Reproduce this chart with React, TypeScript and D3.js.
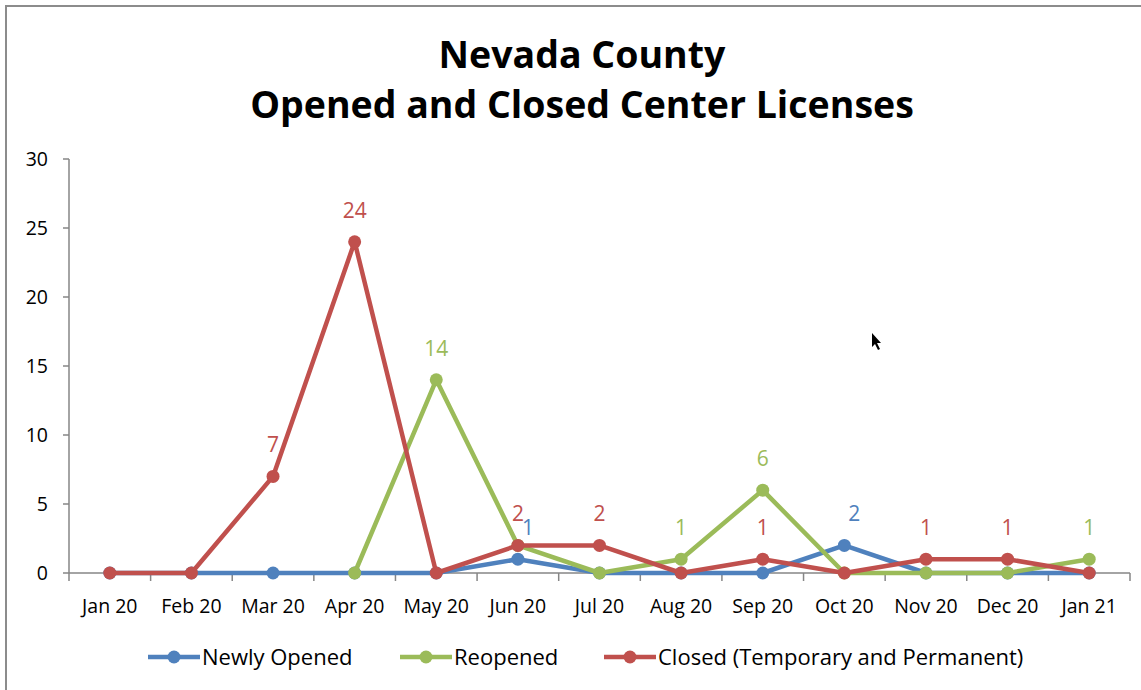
import React from "react";
import * as d3 from "d3";

const months = ["Jan 20","Feb 20","Mar 20","Apr 20","May 20","Jun 20","Jul 20","Aug 20","Sep 20","Oct 20","Nov 20","Dec 20","Jan 21"];
const newlyOpened: (number | null)[] = [0,0,0,0,0,1,0,0,0,2,0,0,0];
const reopened: (number | null)[] = [null,null,null,0,14,2,0,1,6,0,0,0,1];
const closed: (number | null)[] = [0,0,7,24,0,2,2,0,1,0,1,1,0];
// which points carry a data label (as in the original)
const newlyLabels = [false,false,false,false,false,true,false,false,false,true,false,false,false];
const reopenedLabels = [false,false,false,false,true,false,false,true,true,false,false,false,true];
const closedLabels = [false,false,true,true,false,true,true,false,true,false,true,true,false];
const yTicks = [0,5,10,15,20,25,30];

const titleLines = ["Nevada County", "Opened and Closed Center Licenses"];

const series = [
  { name: "Newly Opened", values: newlyOpened, labels: newlyLabels, color: "#4F81BD", dx: 10, dy: 0 },
  { name: "Reopened", values: reopened, labels: reopenedLabels, color: "#9BBB59", dx: 0, dy: 0 },
  { name: "Closed (Temporary and Permanent)", values: closed, labels: closedLabels, color: "#C0504D", dx: 0, dy: 0 },
];

const W = 1141, H = 690;
const left = 69, right = 1130, top = 159, bottom = 573;
const FONT = "'Open Sans', 'Noto Sans', sans-serif";

export default function App() {
  const x = d3.scaleBand<string>().domain(months).range([left, right]);
  const y = d3.scaleLinear().domain([0, 30]).range([bottom, top]);
  const cx = (m: string) => (x(m) as number) + x.bandwidth() / 2;
  const line = d3.line<number | null>()
    .defined((d) => d !== null)
    .x((_, i) => cx(months[i]))
    .y((d) => y(d as number));

  const boundaries = months.map((m) => x(m) as number).concat([right]);
  const legendItems = [
    { x0: 148, tx: 202 },
    { x0: 400, tx: 454 },
    { x0: 604, tx: 658 },
  ];

  return (
    <svg width={W} height={H} style={{ position: "absolute", left: 0, top: 0, background: "#fff" }} fontFamily={FONT}>
      <rect x={6} y={6} width={W + 20} height={H + 20} fill="#fff" stroke="#8c8c8c" strokeWidth={2} />
      {titleLines.map((t, i) => (
        <text key={i} x={582} y={68 + i * 50} textAnchor="middle" fontSize={37.5} fontWeight={700} fill="#000">{t}</text>
      ))}
      {/* y axis */}
      <line x1={left} x2={left} y1={top} y2={bottom} stroke="#868686" strokeWidth={1.5} />
      {yTicks.map((t) => (
        <g key={t}>
          <line x1={left - 6} x2={left} y1={y(t)} y2={y(t)} stroke="#868686" strokeWidth={1.5} />
          <text x={48} y={y(t)} dy="0.35em" textAnchor="end" fontSize={19.5} fill="#000">{t}</text>
        </g>
      ))}
      {/* x axis */}
      <line x1={left} x2={right} y1={bottom} y2={bottom} stroke="#868686" strokeWidth={1.5} />
      {boundaries.map((b, i) => (
        <line key={i} x1={b} x2={b} y1={bottom} y2={bottom + 8} stroke="#868686" strokeWidth={1.5} />
      ))}
      {months.map((m) => (
        <text key={m} x={cx(m)} y={613} textAnchor="middle" fontSize={19.5} fill="#000">{m}</text>
      ))}
      {/* series */}
      {series.map((s) => (
        <g key={s.name}>
          <path d={line(s.values) || ""} fill="none" stroke={s.color} strokeWidth={4.5} strokeLinejoin="round" />
          {s.values.map((v, i) => v === null ? null : (
            <circle key={i} cx={cx(months[i])} cy={y(v)} r={6.5} fill={s.color} />
          ))}
        </g>
      ))}
      {series.map((s) => (
        <g key={s.name + "-labels"}>
          {s.values.map((v, i) => v === null || !s.labels[i] ? null : (
            <text key={i} x={cx(months[i]) + s.dx} y={y(v) - 24 + s.dy} textAnchor="middle" fontSize={21} fill={s.color}>{v}</text>
          ))}
        </g>
      ))}
      {/* legend */}
      {series.map((s, i) => (
        <g key={s.name + "-legend"}>
          <line x1={legendItems[i].x0} x2={legendItems[i].x0 + 52} y1={657} y2={657} stroke={s.color} strokeWidth={4.5} />
          <circle cx={legendItems[i].x0 + 26} cy={657} r={6.5} fill={s.color} />
          <text x={legendItems[i].tx} y={657} dy="0.35em" fontSize={22} fill="#000">{s.name}</text>
        </g>
      ))}
      {/* mouse pointer as in the screenshot */}
      <path d="M872,333 L872,347 L875,344 L878,350 L880,349 L877,343 L881,343 Z" fill="#000" />
    </svg>
  );
}
